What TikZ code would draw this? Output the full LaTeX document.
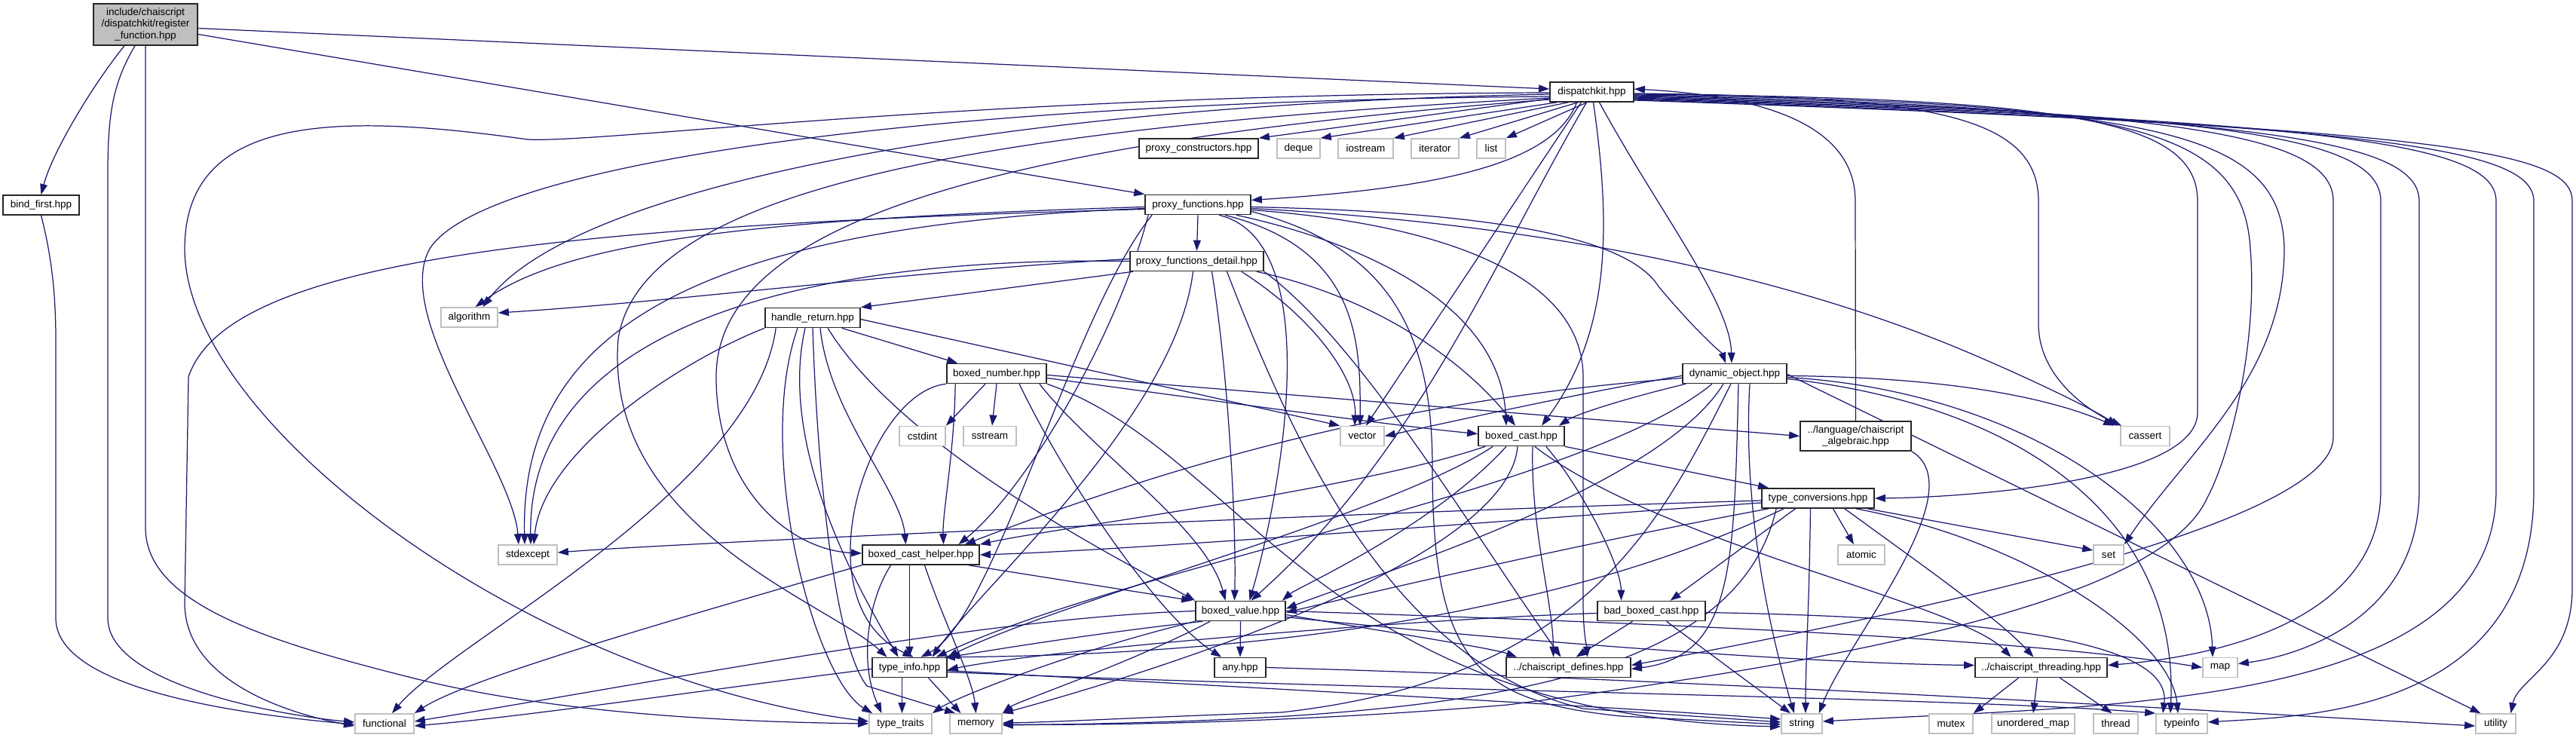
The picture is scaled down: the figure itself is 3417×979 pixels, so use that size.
\documentclass[tikz,border=0pt]{standalone}
\usepackage{fontspec}
\setmainfont{Liberation Sans}
\usetikzlibrary{arrows.meta,calc}
\pgfdeclarelayer{bg}
\pgfsetlayers{bg,main}
\definecolor{ec}{HTML}{191970}
\definecolor{gb}{HTML}{BFBFBF}
\begin{document}
\begin{tikzpicture}[x=0.01cm,y=0.01cm,
 font=\fontsize{3.85}{4.3}\selectfont,
 pn/.style={draw=black!85,line width=0.45pt,fill=white,inner sep=0pt,minimum height=0.26cm,align=center},
 sn/.style={draw=gb,line width=0.45pt,fill=white,inner sep=0pt,minimum height=0.26cm},
 e/.style={draw=ec,line width=0.35pt,-{Triangle[length=4pt,width=2.8pt]}}]
\useasboundingbox (0,0) rectangle (3417,-979);
% nodes
\node[pn,fill=gb,minimum width=1.38cm,minimum height=0.55cm] (R) at (193,-32.5) {include/chaiscript\\/dispatchkit/register\\\_function.hpp};
\node[pn,minimum width=1.01cm] (bf) at (54.5,-272) {bind\_first.hpp};
\node[pn,minimum width=1.11cm] (D) at (2111.5,-122) {dispatchkit.hpp};
\node[pn,minimum width=1.58cm] (pc) at (1590,-197) {proxy\_constructors.hpp};
\node[sn,minimum width=0.57cm] (dq) at (1722.5,-197) {deque};
\node[sn,minimum width=0.73cm] (ios) at (1811.5,-197) {iostream};
\node[sn,minimum width=0.63cm] (itr) at (1903.5,-197) {iterator};
\node[sn,minimum width=0.38cm] (lst) at (1978,-197) {list};
\node[pn,minimum width=1.40cm] (pf) at (1589,-271.5) {proxy\_functions.hpp};
\node[pn,minimum width=1.77cm] (pfd) at (1587.5,-346.5) {proxy\_functions\_detail.hpp};
\node[sn,minimum width=0.75cm] (alg) at (622.5,-421) {algorithm};
\node[pn,minimum width=1.26cm] (hr) at (1078,-421.5) {handle\_return.hpp};
\node[pn,minimum width=1.38cm] (dyn) at (2301,-495.5) {dynamic\_object.hpp};
\node[pn,minimum width=1.32cm] (bn) at (1322,-495.5) {boxed\_number.hpp};
\node[sn,minimum width=0.61cm] (cst) at (1223.5,-578.5) {cstdint};
\node[sn,minimum width=0.70cm] (ss) at (1313,-578.5) {sstream};
\node[sn,minimum width=0.58cm] (vec) at (1807,-578.5) {vector};
\node[pn,minimum width=1.14cm] (bc) at (2018,-578.5) {boxed\_cast.hpp};
\node[pn,minimum width=1.47cm,minimum height=0.39cm] (algb) at (2461.5,-578.5) {../language/chaiscript\\\_algebraic.hpp};
\node[sn,minimum width=0.65cm] (cas) at (2845.5,-578.5) {cassert};
\node[pn,minimum width=1.49cm] (tc) at (2411.5,-661) {type\_conversions.hpp};
\node[sn,minimum width=0.78cm] (se) at (700,-736) {stdexcept};
\node[pn,minimum width=1.55cm] (bch) at (1221.5,-736) {boxed\_cast\_helper.hpp};
\node[sn,minimum width=0.62cm] (atm) at (2469,-736) {atomic};
\node[sn,minimum width=0.40cm] (set) at (2797,-736) {set};
\node[pn,minimum width=1.19cm] (bv) at (1645.5,-810.5) {boxed\_value.hpp};
\node[pn,minimum width=1.43cm] (bbc) at (2190.5,-810.5) {bad\_boxed\_cast.hpp};
\node[pn,minimum width=0.99cm] (ti) at (1206.5,-885.5) {type\_info.hpp};
\node[pn,minimum width=0.68cm] (any) at (1645,-885.5) {any.hpp};
\node[pn,minimum width=1.65cm] (def) at (2080.5,-885.5) {../chaiscript\_defines.hpp};
\node[pn,minimum width=1.75cm] (thr) at (2707.5,-885.5) {../chaiscript\_threading.hpp};
\node[sn,minimum width=0.46cm] (map) at (2945,-885.5) {map};
\node[sn,minimum width=0.78cm] (fn) at (510,-960) {functional};
\node[sn,minimum width=0.83cm] (tt) at (1194.5,-960) {type\_traits};
\node[sn,minimum width=0.69cm] (mem) at (1294.5,-960) {memory};
\node[sn,minimum width=0.54cm] (str) at (2390,-960) {string};
\node[sn,minimum width=0.58cm] (mtx) at (2588,-960) {mutex};
\node[sn,minimum width=1.10cm] (um) at (2697,-960) {unordered\_map};
\node[sn,minimum width=0.59cm] (thd) at (2806.5,-960) {thread};
\node[sn,minimum width=0.68cm] (tyi) at (2894,-960) {typeinfo};
\node[sn,minimum width=0.53cm] (utl) at (3310.5,-960) {utility};
\begin{pgfonlayer}{bg}
% root
\draw[e] ($(R.south)+(-28,0)$) .. controls (125,-110) and (70,-200) .. (bf.north);
\draw[e] ($(R.east)+(0,-5)$) -- ($(D.west)+(0,4)$);
\draw[e] ($(R.east)+(0,-13)$) -- (pf.north west);
\draw[e] ($(R.south)+(-14,0)$) .. controls (150,-110) and (143,-150) .. (143,-230) -- (143,-820) .. controls (143,-910) and (380,-950) .. ($(fn.west)+(0,2)$);
\draw[e] (R.south) -- (193,-700) .. controls (193,-800) and (350,-850) .. (550,-900) .. controls (750,-950) and (1000,-958) .. (tt.west);
% bind_first
\draw[e] (bf.south) .. controls (66,-330) and (74,-380) .. (74,-450) -- (74,-820) .. controls (74,-920) and (350,-950) .. ($(fn.west)+(0,-1)$);
% dispatchkit
\draw[e] ($(D.west)+(0,-9)$) -- (pc.north east);
\draw[e] ($(D.south west)+(10,0)$) -- (dq.north east);
\draw[e] ($(D.south west)+(25,0)$) -- (ios.north east);
\draw[e] ($(D.south west)+(38,0)$) -- (itr.north east);
\draw[e] ($(D.south west)+(50,0)$) -- (lst.north east);
\draw[e] ($(D.south)+(-20,0)$) .. controls (2060,-220) and (1900,-250) .. ($(pf.east)+(0,6)$);
\draw[e] ($(D.south)+(10,0)$) .. controls (2200,-280) and (2295,-400) .. ($(dyn.north)+(-4,0)$);
\draw[e] ($(D.south)+(2,0)$) .. controls (2137,-300) and (2137,-440) .. ($(bc.north)+(27,0)$);
\draw[e] ($(D.south)+(-14,0)$) -- ($(vec.north)+(5,0)$);
\draw[e] ($(D.south)+(-7,0)$) .. controls (1980,-350) and (1880,-600) .. ($(bv.north)+(14,0)$);
\draw[e] ($(D.west)+(0,-3)$) .. controls (1300,-140) and (760,-250) .. ($(alg.north)+(18,0)$);
\draw[e] ($(D.west)+(0,-6)$) .. controls (1200,-135) and (640,-220) .. (570,-330) .. controls (520,-420) and (680,-620) .. ($(se.north)+(-12,0)$);
\draw[e] ($(D.west)+(0,-1)$) .. controls (1300,-125) and (800,-190) .. (700,-185) .. controls (450,-150) and (245,-150) .. (245,-330) .. controls (245,-560) and (700,-900) .. ($(tt.west)+(0,3)$);
\draw[e] ($(D.west)+(0,-8)$) .. controls (1300,-170) and (850,-250) .. (820,-450) .. controls (800,-700) and (1100,-800) .. ($(ti.north)+(-30,0)$);
\draw[e] ($(D.west)+(0,-10)$) .. controls (1300,-190) and (950,-300) .. (950,-500) .. controls (950,-650) and (1050,-730) .. ($(bch.west)+(0,2)$);
\draw[e] ($(D.east)+(0,-2)$) .. controls (2550,-128) and (2704,-150) .. (2704,-267) -- (2704,-430) .. controls (2704,-500) and (2770,-545) .. ($(cas.north west)+(2,0)$);
\draw[e] ($(D.east)+(0,-3)$) .. controls (2750,-130) and (2915,-160) .. (2915,-267) -- (2915,-547) .. controls (2915,-640) and (2600,-660) .. (tc.east);
\draw[e] ($(D.east)+(0,-4)$) .. controls (2800,-135) and (2975,-160) .. (2985,-330) .. controls (2995,-450) and (2960,-600) .. (2928,-660) .. controls (2870,-790) and (2500,-870) .. (2000,-935) .. controls (1700,-960) and (1450,-962) .. ($(mem.east)+(0,-1)$);
\draw[e] ($(D.east)+(0,-5)$) .. controls (2850,-140) and (3027,-170) .. (3030,-330) .. controls (3030,-500) and (2900,-600) .. (set.north east);
\draw[e] ($(D.east)+(0,-6)$) .. controls (2900,-145) and (3095,-180) .. (3095,-267) -- (3095,-580) .. controls (3095,-700) and (2500,-820) .. ($(def.east)+(0,3)$);
\draw[e] ($(D.east)+(0,-7)$) .. controls (2950,-150) and (3158,-180) .. (3158,-267) -- (3158,-650) .. controls (3158,-820) and (2950,-870) .. ($(thr.east)+(0,3)$);
\draw[e] ($(D.east)+(0,-8)$) .. controls (3000,-155) and (3209,-185) .. (3209,-267) -- (3209,-650) .. controls (3209,-820) and (3050,-870) .. ($(map.east)+(0,5)$);
\draw[e] ($(D.east)+(0,-9)$) .. controls (3100,-160) and (3311,-190) .. (3311,-267) -- (3311,-650) .. controls (3311,-940) and (2800,-935) .. ($(str.east)+(0,3)$);
\draw[e] ($(D.east)+(0,-10)$) .. controls (3150,-165) and (3361,-195) .. (3361,-267) -- (3361,-650) .. controls (3361,-950) and (3050,-950) .. ($(tyi.east)+(0,2)$);
\draw[e] ($(D.east)+(0,-11)$) .. controls (3250,-170) and (3412,-200) .. (3412,-267) -- (3412,-780) .. controls (3412,-880) and (3340,-900) .. ($(utl.north)+(20,0)$);
% algebraic
\draw[e] (algb.north) -- (2461,-267) .. controls (2461,-170) and (2350,-128) .. ($(D.east)+(0,4)$);
\draw[e] (algb.south east) .. controls (2620,-650) and (2450,-850) .. ($(str.north east)+(-5,0)$);
% proxy_functions
\draw[e] (pf.south) -- (pfd.north);
\draw[e] ($(pf.east)+(0,-3)$) .. controls (1900,-280) and (2150,-300) .. (2200,-380) .. controls (2250,-440) and (2285,-470) .. ($(dyn.north)+(-12,0)$);
\draw[e] ($(pf.south east)+(-20,0)$) .. controls (1800,-320) and (1990,-400) .. ($(bc.north)+(-20,0)$);
\draw[e] ($(pf.south east)+(-35,0)$) .. controls (1800,-330) and (1805,-450) .. ($(vec.north)+(-3,0)$);
\draw[e] ($(pf.east)+(0,-5)$) .. controls (2100,-300) and (2400,-380) .. (2600,-463) .. controls (2700,-505) and (2780,-545) .. ($(cas.north west)+(-4,0)$);
\draw[e] ($(pf.east)+(0,-7)$) .. controls (1950,-300) and (2100,-380) .. (2100,-500) -- (2100,-800) .. controls (2100,-840) and (2105,-860) .. ($(def.north)+(25,0)$);
\draw[e] ($(pf.west)+(0,-3)$) .. controls (1000,-290) and (750,-320) .. ($(alg.north)+(8,0)$);
\draw[e] ($(pf.west)+(0,-5)$) .. controls (900,-300) and (690,-450) .. ($(se.north)+(-4,0)$);
\draw[e] ($(pf.west)+(0,-6)$) .. controls (700,-300) and (300,-350) .. (250,-500) -- (245,-800) .. controls (245,-910) and (400,-950) .. ($(fn.west)+(0,-3)$);
\draw[e] ($(pf.south west)+(10,0)$) .. controls (1420,-420) and (1320,-820) .. ($(ti.north)+(15,0)$);
\draw[e] ($(pf.south)+(28,0)$) .. controls (1760,-320) and (1700,-650) .. ($(bv.north)+(12,0)$);
\draw[e] ($(pf.south west)+(5,0)$) .. controls (1480,-450) and (1360,-650) .. ($(bch.north)+(50,0)$);
\draw[e] ($(pf.east)+(0,-9)$) .. controls (1850,-330) and (1900,-450) .. (1900,-620) .. controls (1900,-880) and (1960,-930) .. (2150,-950) -- ($(str.west)+(0,-1)$);
% proxy_functions_detail
\draw[e] ($(pfd.south west)+(5,0)$) -- (hr.north east);
\draw[e] ($(pfd.west)+(0,3)$) .. controls (1200,-360) and (900,-400) .. ($(alg.east)+(0,6)$);
\draw[e] (pfd.west) .. controls (1100,-340) and (700,-420) .. ($(se.north)+(4,0)$);
\draw[e] ($(pfd.south east)+(-30,0)$) .. controls (1740,-420) and (1800,-500) .. ($(vec.north)+(-10,0)$);
\draw[e] ($(pfd.south east)+(-10,0)$) .. controls (1850,-400) and (1960,-500) .. ($(bc.north)+(-8,0)$);
\draw[e] ($(pfd.south)+(20,0)$) .. controls (1630,-500) and (1640,-700) .. ($(bv.north)+(-8,0)$);
\draw[e] ($(pfd.south)+(-5,0)$) .. controls (1560,-550) and (1300,-780) .. ($(ti.north)+(30,0)$);
\draw[e] (pfd.south east) .. controls (1800,-450) and (1950,-700) .. ($(def.north)+(-10,0)$);
\draw[e] ($(pfd.south)+(40,0)$) .. controls (1720,-600) and (1850,-880) .. (2100,-940) -- ($(str.west)+(0,2)$);
% handle_return
\draw[e] ($(hr.south east)+(-25,0)$) -- ($(bn.north west)+(15,0)$);
\draw[e] ($(hr.east)+(0,-2)$) -- (vec.north west);
\draw[e] (hr.south west) .. controls (900,-480) and (720,-600) .. ($(se.north)+(8,0)$);
\draw[e] ($(hr.south west)+(15,0)$) .. controls (1000,-650) and (600,-850) .. ($(fn.north)+(10,0)$);
\draw[e] ($(hr.south)+(-10,0)$) .. controls (1030,-600) and (1150,-800) .. ($(ti.north)+(-15,0)$);
\draw[e] ($(hr.south)+(20,0)$) .. controls (1200,-600) and (1500,-750) .. (bv.north west);
\draw[e] (hr.south) .. controls (1085,-650) and (1110,-860) .. (1150,-910) -- ($(mem.north west)+(8,0)$);
\draw[e] ($(hr.south)+(-20,0)$) .. controls (1000,-600) and (1080,-900) .. ($(tt.north west)+(5,0)$);
\draw[e] ($(hr.south)+(10,0)$) .. controls (1100,-550) and (1195,-650) .. ($(bch.north)+(-20,0)$);
% boxed_number
\draw[e] ($(bn.south)+(-15,0)$) -- (cst.north east);
\draw[e] (bn.south) -- ($(ss.north)+(3,0)$);
\draw[e] ($(bn.east)+(0,-2)$) -- (algb.west);
\draw[e] ($(bn.east)+(0,-6)$) .. controls (1600,-530) and (1850,-565) .. ($(bc.west)+(0,3)$);
\draw[e] ($(bn.south west)+(12,0)$) .. controls (1266,-600) and (1250,-680) .. ($(bch.north)+(30,0)$);
\draw[e] ($(bn.south east)+(-10,0)$) .. controls (1450,-600) and (1600,-700) .. ($(bv.north)+(-20,0)$);
\draw[e] (bn.south west) .. controls (1150,-520) and (1060,-800) .. ($(ti.north)+(5,0)$);
\draw[e] ($(bn.south)+(30,0)$) .. controls (1420,-650) and (1540,-820) .. ($(any.north west)+(10,0)$);
\draw[e] (bn.south east) .. controls (1650,-600) and (1750,-950) .. ($(str.west)+(0,-4)$);
% dynamic_object
\draw[e] ($(dyn.west)+(0,-3)$) .. controls (2100,-520) and (1900,-565) .. (vec.east);
\draw[e] ($(dyn.south west)+(5,0)$) .. controls (2150,-530) and (2090,-550) .. ($(bc.north east)+(-8,0)$);
\draw[e] ($(dyn.west)+(0,-6)$) .. controls (2000,-520) and (1700,-560) .. ($(bch.north east)+(-20,0)$);
\draw[e] ($(dyn.south)+(-30,0)$) .. controls (2100,-650) and (1500,-750) .. ($(ti.north east)+(-15,0)$);
\draw[e] ($(dyn.south)+(-15,0)$) .. controls (2200,-650) and (1800,-770) .. ($(bv.east)+(0,3)$);
\draw[e] ($(dyn.south)+(-5,0)$) .. controls (2200,-700) and (2100,-900) .. (1700,-945) .. controls (1500,-952) and (1400,-958) .. ($(mem.east)+(0,1)$);
\draw[e] ($(dyn.south)+(5,0)$) .. controls (2300,-750) and (2300,-870) .. ($(def.east)+(0,-2)$);
\draw[e] ($(dyn.east)+(0,-3)$) .. controls (2550,-500) and (2700,-520) .. ($(cas.north west)+(-8,0)$);
\draw[e] ($(dyn.east)+(0,-5)$) .. controls (2700,-520) and (2930,-700) .. ($(map.north)+(-10,0)$);
\draw[e] ($(dyn.east)+(0,-7)$) .. controls (2700,-540) and (2890,-700) .. ($(tyi.north)+(-15,0)$);
\draw[e] ($(dyn.east)+(0,-1)$) -- ($(utl.north)+(-20,0)$);
\draw[e] ($(dyn.south)+(20,0)$) .. controls (2310,-700) and (2360,-880) .. ($(str.north)+(-10,0)$);
% boxed_cast
\draw[e] (bc.south east) -- ($(tc.north west)+(10,0)$);
\draw[e] ($(bc.south west)+(10,0)$) .. controls (1800,-650) and (1400,-700) .. (bch.north east);
\draw[e] ($(bc.south west)+(20,0)$) .. controls (1850,-680) and (1400,-800) .. (ti.north east);
\draw[e] ($(bc.south)+(-20,0)$) .. controls (1900,-700) and (1720,-780) .. ($(bv.north east)+(-5,0)$);
\draw[e] ($(bc.south)+(15,0)$) .. controls (2030,-700) and (2060,-800) .. ($(def.north)+(-20,0)$);
\draw[e] ($(bc.south east)+(-25,0)$) .. controls (2100,-650) and (2150,-750) .. ($(bbc.north)+(-40,0)$);
\draw[e] ($(bc.south east)+(-40,0)$) .. controls (2200,-720) and (2600,-800) .. ($(thr.north)+(-40,0)$);
\draw[e] ($(bc.south)+(-5,0)$) .. controls (2000,-750) and (1500,-900) .. (mem.north east);
% type_conversions
\draw[e] ($(tc.south)+(20,0)$) -- ($(atm.north)+(-10,0)$);
\draw[e] ($(tc.south east)+(-10,0)$) -- ($(set.west)+(0,6)$);
\draw[e] ($(tc.south)+(-30,0)$) -- ($(bbc.north)+(25,0)$);
\draw[e] ($(tc.west)+(0,-3)$) .. controls (1800,-680) and (900,-720) .. ($(se.east)+(0,3)$);
\draw[e] ($(tc.west)+(0,-6)$) .. controls (2000,-690) and (1500,-730) .. (bch.east);
\draw[e] ($(tc.south west)+(10,0)$) .. controls (2100,-720) and (1800,-790) .. ($(bv.east)+(0,-2)$);
\draw[e] ($(tc.south west)+(30,0)$) .. controls (2000,-850) and (1500,-870) .. ($(ti.north east)+(-4,0)$);
\draw[e] ($(tc.south)+(-10,0)$) .. controls (2400,-800) and (2395,-880) .. ($(str.north)+(5,0)$);
\draw[e] ($(tc.south east)+(-40,0)$) .. controls (2550,-750) and (2650,-820) .. ($(thr.north)+(-10,0)$);
\draw[e] ($(tc.south east)+(-25,0)$) .. controls (2700,-720) and (2880,-850) .. ($(tyi.north)+(-5,0)$);
\draw[e] ($(tc.south west)+(20,0)$) .. controls (2300,-920) and (1900,-955) .. ($(mem.east)+(0,-2)$);
% boxed_cast_helper
\draw[e] ($(bch.south east)+(-15,0)$) -- ($(bv.north west)+(-4,0)$);
\draw[e] ($(bch.south)+(-15,0)$) -- (ti.north);
\draw[e] ($(bch.south)+(-40,0)$) .. controls (1150,-800) and (1140,-880) .. ($(tt.north)+(-25,0)$);
\draw[e] ($(bch.south)+(5,0)$) .. controls (1250,-820) and (1290,-900) .. (mem.north);
\draw[e] (bch.south west) .. controls (900,-820) and (620,-900) .. (fn.north east);
% boxed_value
\draw[e] (bv.south) -- (any.north);
\draw[e] ($(bv.south west)+(10,0)$) .. controls (1450,-840) and (1300,-865) .. ($(ti.north east)+(2,0)$);
\draw[e] ($(bv.south west)+(20,0)$) .. controls (1500,-880) and (1350,-930) .. (mem.north east);
\draw[e] (bv.south west) .. controls (1400,-870) and (1260,-930) .. (tt.north east);
\draw[e] ($(bv.east)+(0,-5)$) .. controls (1850,-840) and (1980,-860) .. ($(def.north west)+(15,0)$);
\draw[e] ($(bv.east)+(0,-8)$) .. controls (2000,-850) and (2400,-880) .. ($(thr.west)+(0,3)$);
\draw[e] (bv.east) .. controls (2300,-830) and (2700,-850) .. (map.west);
\draw[e] (bv.west) .. controls (1300,-820) and (900,-900) .. ($(fn.east)+(0,3)$);
% bad_boxed_cast
\draw[e] ($(bbc.south)+(20,0)$) -- ($(str.north)+(-15,0)$);
\draw[e] ($(bbc.south)+(-25,0)$) -- ($(def.north)+(10,0)$);
\draw[e] ($(bbc.east)+(0,-2)$) .. controls (2700,-820) and (2880,-860) .. ($(tyi.north)+(-25,0)$);
\draw[e] ($(bbc.west)+(0,-3)$) .. controls (1900,-820) and (1400,-860) .. ($(ti.east)+(0,-3)$);
% type_info
\draw[e] ($(ti.south)+(-10,0)$) -- ($(tt.north)+(2,0)$);
\draw[e] ($(ti.south)+(25,0)$) -- ($(mem.north)+(-20,0)$);
\draw[e] ($(ti.east)+(0,-4)$) .. controls (1700,-915) and (2100,-935) .. ($(str.west)+(0,6)$);
\draw[e] ($(ti.east)+(0,-6)$) .. controls (1800,-915) and (2600,-925) .. (tyi.north west);
\draw[e] ($(ti.west)+(0,-2)$) .. controls (900,-920) and (700,-950) .. ($(fn.east)+(0,-3)$);
% any
\draw[e] (any.east) .. controls (2200,-900) and (2800,-935) .. ($(utl.west)+(0,-3)$);
% threading
\draw[e] ($(thr.south)+(-30,0)$) -- (mtx.north east);
\draw[e] ($(thr.south)+(-5,0)$) -- (um.north);
\draw[e] ($(thr.south)+(25,0)$) -- ($(thd.north)+(-5,0)$);
\end{pgfonlayer}
\end{tikzpicture}
\end{document}
